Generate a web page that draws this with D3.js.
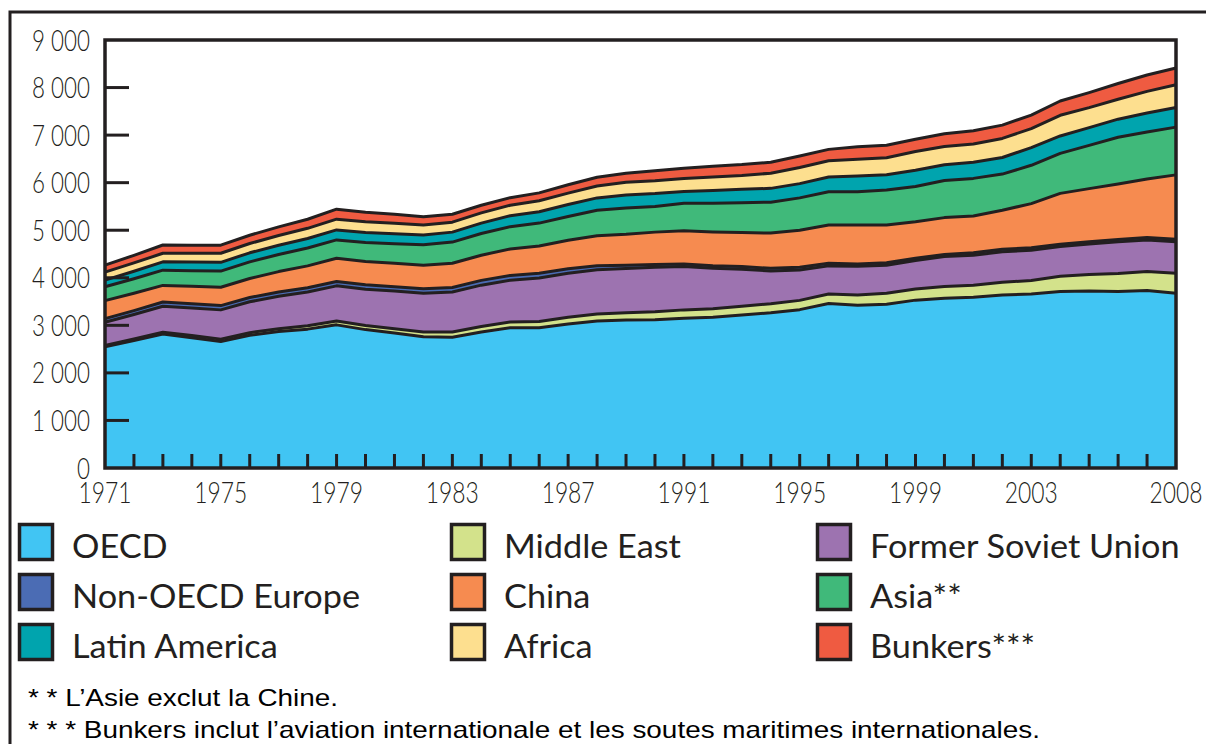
<!DOCTYPE html>
<html>
<head>
<meta charset="utf-8">
<script src="https://cdn.jsdelivr.net/npm/d3@7"></script>
<style>
  body { margin: 0; background: #fff; }
  svg { display: block; }
</style>
</head>
<body>
<div id="chart"></div>
<script>
// data (Mtoe)
const years = [1971, 1972, 1973, 1974, 1975, 1976, 1977, 1978, 1979, 1980,
  1981, 1982, 1983, 1984, 1985, 1986, 1987, 1988, 1989, 1990,
  1991, 1992, 1993, 1994, 1995, 1996, 1997, 1998, 1999, 2000,
  2001, 2002, 2003, 2004, 2005, 2006, 2007, 2008];

const oecd = [2550, 2680, 2815, 2740, 2660, 2790, 2870, 2920, 3010, 2910,
  2840, 2760, 2750, 2860, 2950, 2950, 3030, 3090, 3110, 3120,
  3150, 3170, 3215, 3265, 3330, 3460, 3420, 3445, 3530, 3570,
  3590, 3640, 3660, 3710, 3720, 3710, 3730, 3675];
const middleEast = [25, 32, 40, 45, 50, 55, 60, 70, 80, 85,
  90, 100, 110, 115, 120, 130, 140, 150, 155, 165,
  175, 180, 185, 190, 195, 200, 220, 230, 235, 245,
  255, 265, 285, 320, 350, 380, 400, 420];
const formerSoviet = [490, 515, 545, 580, 615, 650, 680, 710, 740, 765,
  790, 815, 840, 870, 880, 915, 925, 930, 930, 935,
  910, 850, 780, 690, 640, 590, 600, 590, 600, 630,
  630, 640, 635, 625, 640, 665, 665, 665];
const nonOecdEurope = [75, 82, 90, 90, 90, 90, 90, 90, 90, 92,
  93, 95, 95, 100, 100, 100, 95, 85, 70, 60,
  55, 55, 55, 55, 55, 55, 50, 50, 45, 45,
  50, 55, 50, 50, 50, 50, 50, 50];
const china = [380, 365, 350, 365, 385, 400, 430, 460, 490, 490,
  490, 495, 510, 530, 555, 575, 600, 630, 650, 680,
  700, 710, 715, 740, 780, 805, 820, 795, 770, 775,
  775, 820, 930, 1070, 1115, 1165, 1230, 1354];
const asia = [290, 305, 320, 330, 340, 350, 360, 375, 386, 400,
  415, 430, 445, 455, 470, 480, 500, 535, 550, 540,
  575, 600, 630, 650, 680, 700, 700, 735, 740, 780,
  790, 760, 805, 842, 910, 985, 990, 1004];
const latinAmerica = [140, 158, 175, 180, 185, 190, 195, 200, 210, 210,
  210, 205, 210, 220, 230, 240, 250, 260, 275, 270,
  250, 270, 280, 290, 300, 310, 330, 320, 340, 330,
  340, 350, 372, 365, 372, 380, 400, 413];
const africa = [170, 175, 180, 185, 190, 195, 205, 215, 226, 225,
  220, 210, 210, 215, 220, 230, 240, 250, 270, 270,
  275, 285, 290, 320, 340, 340, 352, 360, 395, 385,
  385, 400, 400, 435, 421, 420, 455, 478];
const bunkers = [145, 160, 175, 170, 170, 175, 180, 190, 210, 200,
  190, 175, 165, 160, 160, 165, 175, 185, 190, 210,
  215, 225, 230, 230, 240, 240, 265, 260, 258, 267,
  275, 280, 285, 300, 316, 330, 345, 351];

const yTicks = [0, 1000, 2000, 3000, 4000, 5000, 6000, 7000, 8000, 9000];
const xLabels = [1971, 1975, 1979, 1983, 1987, 1991, 1995, 1999, 2003, 2008];

// stack order, bottom to top
const layers = [
  { key: "oecd", name: "OECD", values: oecd, color: "#41c5f3" },
  { key: "me", name: "Middle East", values: middleEast, color: "#d3e28b" },
  { key: "fsu", name: "Former Soviet Union", values: formerSoviet, color: "#9d73b0" },
  { key: "noe", name: "Non-OECD Europe", values: nonOecdEurope, color: "#4b6cb4" },
  { key: "china", name: "China", values: china, color: "#f68b50" },
  { key: "asia", name: "Asia**", values: asia, color: "#40b97a" },
  { key: "latam", name: "Latin America", values: latinAmerica, color: "#00a4ae" },
  { key: "africa", name: "Africa", values: africa, color: "#fddf8f" },
  { key: "bunkers", name: "Bunkers***", values: bunkers, color: "#ef5b41" }
];

// legend columns (row by row inside each column)
const legendCols = [
  ["oecd", "noe", "latam"],
  ["me", "china", "africa"],
  ["fsu", "asia", "bunkers"]
];

const footnotes = [
  "* * L\u2019Asie exclut la Chine.",
  "* * * Bunkers inclut l\u2019aviation internationale et les soutes maritimes internationales."
];

const ink = "#231f20";
const W = 1206, H = 744;
const plot = { left: 105, right: 1176, top: 40, bottom: 468 };

const svg = d3.select("#chart").append("svg")
  .attr("width", W).attr("height", H);

// outer frame
svg.append("rect")
  .attr("x", 10).attr("y", 12)
  .attr("width", 1210).attr("height", 760)
  .attr("fill", "none").attr("stroke", ink).attr("stroke-width", 3);

const x = d3.scaleLinear().domain([1971, 2008]).range([plot.left, plot.right]);
const y = d3.scaleLinear().domain([0, 9000]).range([plot.bottom, plot.top]);

// table for d3.stack
const table = years.map((yr, i) => {
  const row = { year: yr };
  layers.forEach(l => { row[l.key] = l.values[i]; });
  return row;
});

const stack = d3.stack().keys(layers.map(l => l.key));
const stacked = stack(table);

const area = d3.area()
  .x(d => x(d.data.year))
  .y0(d => y(d[0]))
  .y1(d => y(d[1]));

const topLine = d3.line()
  .x(d => x(d.data.year))
  .y(d => y(d[1]));

svg.append("g").selectAll("path")
  .data(stacked)
  .join("path")
  .attr("d", area)
  .attr("fill", (d, i) => layers[i].color);

svg.append("g").selectAll("path")
  .data(stacked)
  .join("path")
  .attr("d", topLine)
  .attr("fill", "none")
  .attr("stroke", ink)
  .attr("stroke-width", 3)
  .attr("stroke-linejoin", "round");

// ticks drawn over the areas
svg.append("g").selectAll("line")
  .data(yTicks.filter(t => t > 0 && t < 9000))
  .join("line")
  .attr("x1", plot.left).attr("x2", plot.left + 24)
  .attr("y1", d => y(d)).attr("y2", d => y(d))
  .attr("stroke", ink).attr("stroke-width", 3);

svg.append("g").selectAll("line")
  .data(years.filter(yr => yr > 1971 && yr < 2008))
  .join("line")
  .attr("x1", d => x(d)).attr("x2", d => x(d))
  .attr("y1", plot.bottom).attr("y2", plot.bottom - 14)
  .attr("stroke", ink).attr("stroke-width", 3);

// plot frame
svg.append("rect")
  .attr("x", plot.left).attr("y", plot.top)
  .attr("width", plot.right - plot.left)
  .attr("height", plot.bottom - plot.top)
  .attr("fill", "none").attr("stroke", ink).attr("stroke-width", 3.5);

function squeeze(sel, factor) {
  sel.each(function () {
    const w = this.getComputedTextLength();
    d3.select(this)
      .attr("textLength", w * factor)
      .attr("lengthAdjust", "spacingAndGlyphs");
  });
}

const fmt = v => d3.format(",")(v).replace(",", " ");

// y tick labels
const yLab = svg.append("g")
  .attr("font-family", "Lato, 'Open Sans', sans-serif")
  .attr("font-weight", 300)
  .attr("font-size", 29)
  .attr("fill", ink)
  .selectAll("text")
  .data(yTicks)
  .join("text")
  .attr("x", 90)
  .attr("y", d => y(d) + 10.5)
  .attr("text-anchor", "end")
  .text(fmt);
const yFactor = 58 / yLab.filter(d => d === 9000).node().getComputedTextLength();
squeeze(yLab, yFactor);

// x tick labels
const xLab = svg.append("g")
  .attr("font-family", "Lato, 'Open Sans', sans-serif")
  .attr("font-weight", 300)
  .attr("font-size", 30)
  .attr("fill", ink)
  .selectAll("text")
  .data(xLabels)
  .join("text")
  .attr("x", d => x(d))
  .attr("y", 503)
  .attr("text-anchor", "middle")
  .text(d => d);
const xFactor = 53 / xLab.node().getComputedTextLength();
squeeze(xLab, xFactor);

// legend
const legendX = [18, 450, 816];
const rowY = [523, 573, 623];
const legendItems = [];
legendCols.forEach((col, c) => {
  col.forEach((key, r) => {
    const l = layers.find(d => d.key === key);
    legendItems.push({ name: l.name, color: l.color, x: legendX[c], y: rowY[r] });
  });
});

const leg = svg.append("g")
  .attr("font-family", "Lato, 'Open Sans', sans-serif")
  .attr("font-size", 32)
  .attr("fill", ink);

leg.selectAll("rect")
  .data(legendItems)
  .join("rect")
  .attr("x", d => d.x + 1.5).attr("y", d => d.y + 1.5)
  .attr("width", 33).attr("height", 35)
  .attr("fill", d => d.color)
  .attr("stroke", ink).attr("stroke-width", 3.5);

const legText = leg.selectAll("text")
  .data(legendItems)
  .join("text")
  .attr("x", d => d.x + 54)
  .attr("y", d => d.y + 35)
  .text(d => d.name);
const legFactor = 288 / legText.filter(d => d.name === "Non-OECD Europe").node().getComputedTextLength();
squeeze(legText, legFactor);

// footnotes
svg.append("g")
  .attr("font-family", "'Liberation Sans', Arial, sans-serif")
  .attr("font-size", 24)
  .attr("fill", "#000")
  .selectAll("text")
  .data(footnotes)
  .join("text")
  .attr("x", 28)
  .attr("y", (d, i) => 706 + i * 32)
  .attr("textLength", (d, i) => (i === 0 ? 310 : 1012))
  .attr("lengthAdjust", "spacingAndGlyphs")
  .text(d => d);
</script>
</body>
</html>
